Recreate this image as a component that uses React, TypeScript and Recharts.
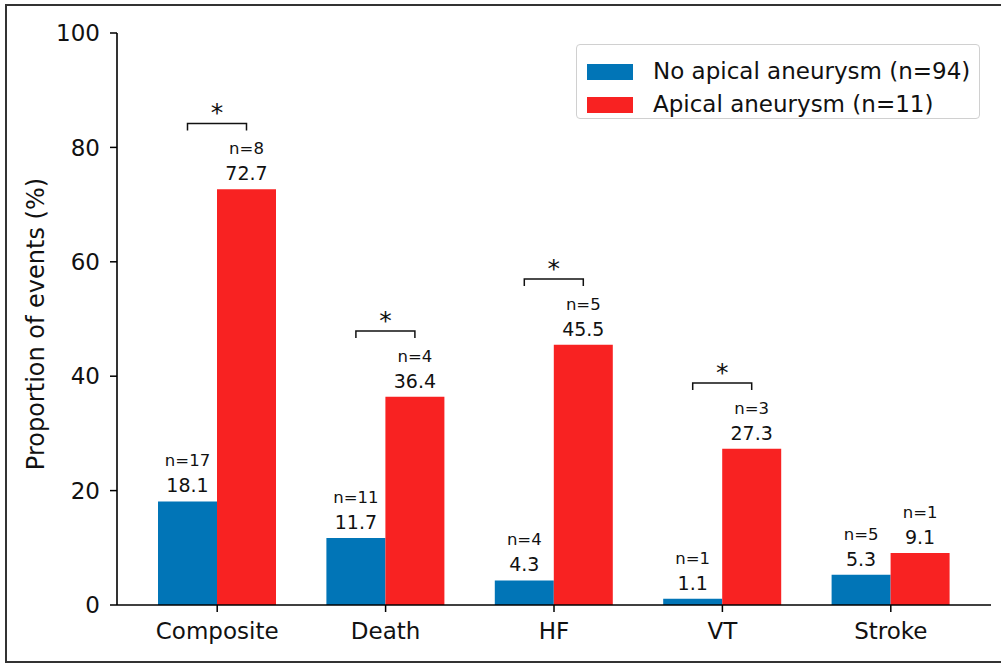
import React from 'react';
import { BarChart, Bar, XAxis, YAxis, Legend, LabelList } from 'recharts';

const categories = ['Composite', 'Death', 'HF', 'VT', 'Stroke'];
const noAneurysm = [18.1, 11.7, 4.3, 1.1, 5.3];
const aneurysm = [72.7, 36.4, 45.5, 27.3, 9.1];
const noAneurysmN = [17, 11, 4, 1, 5];
const aneurysmN = [8, 4, 5, 3, 1];
const significant = [true, true, true, true, false];
const yTicks = [0, 20, 40, 60, 80, 100];
const seriesNames = ['No apical aneurysm (n=94)', 'Apical aneurysm (n=11)'];
const BRACKET_GAP = 11.5; // data units above the red bar

const BLUE = '#0175b7';
const RED = '#f82222';
const FONT = 'DejaVu Sans, sans-serif';

const data = categories.map((name, i) => ({
  name,
  no: noAneurysm[i],
  yes: aneurysm[i],
}));

const makeLabel = (counts: number[], withBracket: boolean) => (p: any) => {
  const { x, y, width, height, value, index } = p;
  const cx = x + width / 2;
  const els: any[] = [
    <text key="v" x={cx} y={y - 9} textAnchor="middle" fontSize={19} fontFamily={FONT} fill="#111">
      {Number(value).toFixed(1)}
    </text>,
    <text key="n" x={cx} y={y - 35} textAnchor="middle" fontSize={16.5} fontFamily={FONT} fill="#111">
      {`n=${counts[index]}`}
    </text>,
  ];
  if (withBracket && significant[index]) {
    const ppu = height / value;
    const by = y - BRACKET_GAP * ppu;
    const x1 = x - width / 2;
    const x2 = x + width / 2;
    els.push(
      <path key="b" d={`M${x1},${by + 7} V${by} H${x2} V${by + 7}`} stroke="#111" strokeWidth={1.5} fill="none" />,
      <text key="s" x={(x1 + x2) / 2} y={by - 2} textAnchor="middle" fontSize={25} fontFamily={FONT} fill="#111">
        *
      </text>
    );
  }
  return <g>{els}</g>;
};

const renderLegend = () => (
  <div
    style={{
      width: 404,
      height: 75,
      boxSizing: 'border-box',
      border: '1.5px solid #d0d0d0',
      borderRadius: 4,
      background: 'rgba(255,255,255,0.8)',
      fontFamily: FONT,
      fontSize: 23,
      color: '#111',
      paddingTop: 10,
      paddingLeft: 10,
    }}
  >
    {seriesNames.map((nm, i) => (
      <div key={nm} style={{ display: 'flex', alignItems: 'center', height: 33 }}>
        <div style={{ width: 46, height: 16, background: i === 0 ? BLUE : RED, marginRight: 20, flexShrink: 0 }} />
        <span style={{ lineHeight: '23px', whiteSpace: 'nowrap' }}>{nm}</span>
      </div>
    ))}
  </div>
);

export default function App() {
  return (
    <div style={{ position: 'absolute', left: 0, top: 0, width: 1001, height: 664, background: '#fff', overflow: 'hidden' }}>
      <div
        style={{
          position: 'absolute',
          left: 5,
          top: 4,
          width: 1010,
          height: 659,
          boxSizing: 'border-box',
          border: '2px solid #333',
        }}
      />
      <div style={{ position: 'absolute', left: 0, top: 0 }}>
        <BarChart
          width={1001}
          height={664}
          data={data}
          margin={{ top: 33, right: 10, bottom: 19, left: 57 }}
          barGap={0}
          barSize={59}
        >
          <XAxis
            dataKey="name"
            padding={{ left: 16, right: 16 }}
            height={40}
            tickSize={7}
            tickMargin={11}
            axisLine={{ stroke: '#000', strokeWidth: 1.6 }}
            tickLine={{ stroke: '#000', strokeWidth: 1.5 }}
            tick={{ fontSize: 23, fill: '#111', fontFamily: FONT }}
            interval={0}
          />
          <XAxis
            xAxisId="top"
            dataKey="name"
            orientation="top"
            height={0}
            tick={false}
            tickLine={false}
            axisLine={{ stroke: '#000', strokeWidth: 1.6 }}
          />
          <YAxis
            domain={[0, 100]}
            ticks={yTicks}
            width={60}
            tickSize={7}
            tickMargin={10}
            axisLine={{ stroke: '#000', strokeWidth: 1.6 }}
            tickLine={{ stroke: '#000', strokeWidth: 1.5 }}
            tick={{ fontSize: 23, fill: '#111', fontFamily: FONT }}
            label={{
              content: () => (
                <text
                  x={36}
                  y={324}
                  transform="rotate(-90 36 324)"
                  textAnchor="middle"
                  dominantBaseline="central"
                  fontSize={24}
                  fontFamily={FONT}
                  fill="#111"
                >
                  Proportion of events (%)
                </text>
              ),
            }}
          />
          <YAxis
            yAxisId="right"
            orientation="right"
            domain={[0, 100]}
            width={0}
            tick={false}
            tickLine={false}
            axisLine={{ stroke: '#000', strokeWidth: 1.6 }}
          />
          <Legend
            layout="horizontal"
            verticalAlign="middle"
            align="center"
            content={renderLegend}
            wrapperStyle={{ position: 'absolute', left: 576, top: 44, width: 404, height: 75 }}
          />
          <Bar dataKey="no" fill={BLUE} isAnimationActive={false}>
            <LabelList dataKey="no" content={makeLabel(noAneurysmN, false)} />
          </Bar>
          <Bar dataKey="yes" fill={RED} isAnimationActive={false}>
            <LabelList dataKey="yes" content={makeLabel(aneurysmN, true)} />
          </Bar>
        </BarChart>
      </div>
    </div>
  );
}
